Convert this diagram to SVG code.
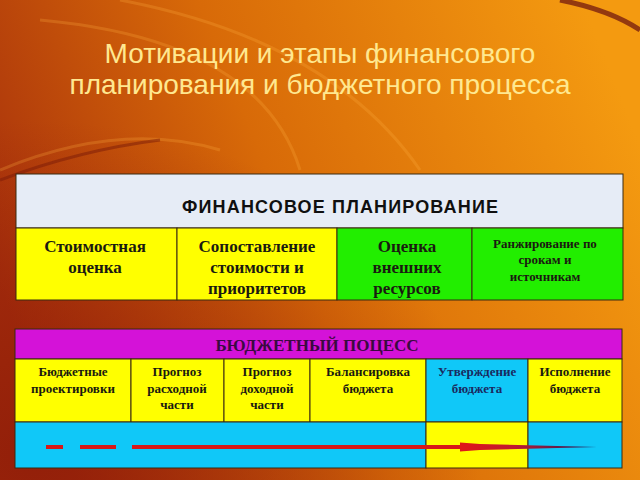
<svg xmlns="http://www.w3.org/2000/svg" width="640" height="480" viewBox="0 0 640 480">
<defs>
<linearGradient id="bg" x1="0" y1="0.6" x2="1" y2="0.3">
<stop offset="0" stop-color="#a8300c"/>
<stop offset="0.45" stop-color="#d86a08"/>
<stop offset="1" stop-color="#f49a10"/>
</linearGradient>
<radialGradient id="dark" cx="0.05" cy="0.95" r="0.7">
<stop offset="0" stop-color="#8a1808" stop-opacity="0.7"/>
<stop offset="1" stop-color="#8a1808" stop-opacity="0"/>
</radialGradient>
<linearGradient id="tail" x1="0" y1="0" x2="1" y2="0">
<stop offset="0" stop-color="#e01818"/>
<stop offset="0.4" stop-color="#c01830"/>
<stop offset="1" stop-color="#102060"/>
</linearGradient>
<style>
.title{font-family:"Liberation Sans",Arial,sans-serif;font-size:28px;fill:#ffe890;text-anchor:middle}
.cell{stroke:#3a2a10;stroke-width:1}
.t15{font-family:"Liberation Serif","Times New Roman",serif;font-size:17px;font-weight:bold;fill:#1a1a10;text-anchor:middle}
.t11{font-family:"Liberation Serif","Times New Roman",serif;font-size:13px;font-weight:bold;fill:#1a1a10;text-anchor:middle}
.blue{fill:#1a2a60}
.hdr{font-family:"Liberation Sans",Arial,sans-serif;font-size:18px;font-weight:bold;fill:#101010;text-anchor:middle}
.hdr2{font-family:"Liberation Serif","Times New Roman",serif;font-size:17px;font-weight:bold;fill:#3a0a40;text-anchor:middle}
.arc{fill:none;stroke:#ffb040;stroke-opacity:0.25;stroke-width:3}
</style>
</defs>
<rect width="640" height="480" fill="url(#bg)"/>
<rect width="640" height="480" fill="url(#dark)"/>
<path class="arc" d="M40 20 Q260 40 300 170"/>
<path class="arc" d="M120 0 Q330 40 420 170"/>
<path class="arc" d="M0 170 Q120 120 220 150"/>
<path d="M560 0 Q610 10 640 30" fill="none" stroke="#6a1010" stroke-width="5" stroke-opacity="0.7"/>
<path d="M0 180 Q80 150 160 140" fill="none" stroke="#7a1a08" stroke-width="3" stroke-opacity="0.5"/>
<text class="title" x="320" y="63">Мотивации и этапы финансового</text>
<text class="title" x="320" y="94">планирования и бюджетного процесса</text>

<g id="fin-header">
<rect class="cell" x="16" y="174" width="607" height="54" fill="#e6ecf6"/>
<text class="hdr" x="340" y="213" textLength="316" lengthAdjust="spacing">ФИНАНСОВОЕ ПЛАНИРОВАНИЕ</text>
</g>
<g id="fin-1">
<rect class="cell" x="16" y="228" width="161" height="72" fill="#ffff00"/>
<text class="t15" x="95" y="252">Стоимостная</text>
<text class="t15" x="95" y="273">оценка</text>
</g>
<g id="fin-2">
<rect class="cell" x="177" y="228" width="160" height="72" fill="#ffff00"/>
<text class="t15" x="257" y="252">Сопоставление</text>
<text class="t15" x="257" y="273">стоимости и</text>
<text class="t15" x="257" y="294">приоритетов</text>
</g>
<g id="fin-3">
<rect class="cell" x="337" y="228" width="135" height="72" fill="#22ee00"/>
<text class="t15" x="407" y="252">Оценка</text>
<text class="t15" x="407" y="273">внешних</text>
<text class="t15" x="407" y="294">ресурсов</text>
</g>
<g id="fin-4">
<rect class="cell" x="472" y="228" width="151" height="72" fill="#22ee00"/>
<text class="t11" x="545" y="248">Ранжирование по</text>
<text class="t11" x="545" y="264">срокам и</text>
<text class="t11" x="545" y="281">источникам</text>
</g>

<g id="bud-header">
<rect class="cell" x="15" y="329" width="607" height="30" fill="#d412d8"/>
<text class="hdr2" x="317" y="351">БЮДЖЕТНЫЙ ПОЦЕСС</text>
</g>
<g id="bud-1">
<rect class="cell" x="15" y="359" width="116" height="63" fill="#ffff00"/>
<text class="t11" x="73" y="376">Бюджетные</text>
<text class="t11" x="73" y="393">проектировки</text>
</g>
<g id="bud-2">
<rect class="cell" x="131" y="359" width="93" height="63" fill="#ffff00"/>
<text class="t11" x="177" y="376">Прогноз</text>
<text class="t11" x="177" y="393">расходной</text>
<text class="t11" x="177" y="409">части</text>
</g>
<g id="bud-3">
<rect class="cell" x="224" y="359" width="86" height="63" fill="#ffff00"/>
<text class="t11" x="267" y="376">Прогноз</text>
<text class="t11" x="267" y="393">доходной</text>
<text class="t11" x="267" y="409">части</text>
</g>
<g id="bud-4">
<rect class="cell" x="310" y="359" width="116" height="63" fill="#ffff00"/>
<text class="t11" x="368" y="376">Балансировка</text>
<text class="t11" x="368" y="393">бюджета</text>
</g>
<g id="bud-5">
<rect class="cell" x="426" y="359" width="102" height="63" fill="#10c8f8"/>
<text class="t11 blue" x="477" y="376">Утверждение</text>
<text class="t11 blue" x="477" y="393">бюджета</text>
</g>
<g id="bud-6">
<rect class="cell" x="528" y="359" width="94" height="63" fill="#ffff00"/>
<text class="t11" x="575" y="376">Исполнение</text>
<text class="t11" x="575" y="393">бюджета</text>
</g>
<g id="timeline">
<rect class="cell" x="15" y="422" width="411" height="46" fill="#10c8f8"/>
<rect class="cell" x="426" y="422" width="102" height="46" fill="#ffff00"/>
<rect class="cell" x="528" y="422" width="94" height="46" fill="#10c8f8"/>
</g>
<g id="connectors">
<line x1="46" y1="447" x2="63" y2="447" stroke="#d81818" stroke-width="4"/>
<line x1="80" y1="447" x2="116" y2="447" stroke="#d81818" stroke-width="4"/>
<line x1="132" y1="447" x2="462" y2="447" stroke="#d81818" stroke-width="4"/>
<polygon points="460,442.5 480,444 597,447 480,450 460,451.5" fill="url(#tail)"/>
</g>
</svg>
